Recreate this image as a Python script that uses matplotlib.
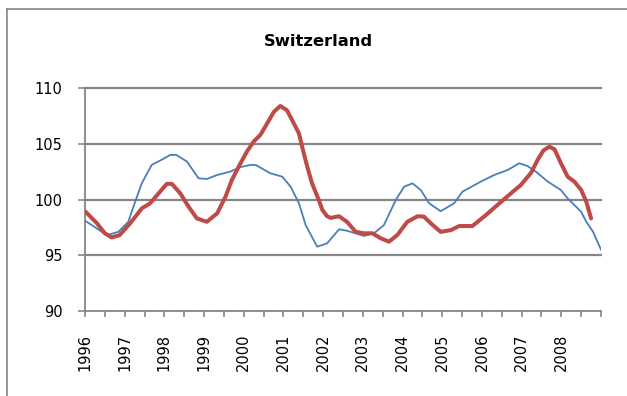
import numpy as np
import matplotlib
matplotlib.use("Agg")
import matplotlib.pyplot as plt
from matplotlib.lines import Line2D

# blue series (decimal year, index)
blue_t = [1996.0, 1996.3, 1996.55, 1996.84, 1997.09, 1997.22, 1997.43, 1997.68, 1997.95,
          1998.15, 1998.3, 1998.57, 1998.86, 1999.07, 1999.33, 1999.66, 1999.91, 2000.17,
          2000.3, 2000.67, 2000.97, 2001.18, 2001.39, 2001.56, 2001.85, 2002.1, 2002.4,
          2002.6, 2003.03, 2003.28, 2003.53, 2003.83, 2004.04, 2004.25, 2004.46, 2004.67,
          2004.96, 2005.3, 2005.51, 2005.97, 2006.31, 2006.65, 2006.94, 2007.15, 2007.36,
          2007.66, 2007.99, 2008.16, 2008.5, 2008.63, 2008.8, 2009.0]
blue_v = [98.1, 97.4, 96.8, 97.1, 98.0, 99.35, 101.45, 103.1, 103.6,
          104.0, 104.0, 103.4, 101.9, 101.84, 102.2, 102.5, 102.9, 103.1,
          103.1, 102.35, 102.05, 101.15, 99.66, 97.7, 95.77, 96.07, 97.33,
          97.2, 96.73, 96.97, 97.7, 99.96, 101.15, 101.45, 100.85, 99.66,
          98.95, 99.66, 100.7, 101.6, 102.2, 102.65, 103.25, 103.0, 102.5,
          101.6, 100.85, 100.1, 98.9, 98.0, 97.1, 95.5]

# red series (decimal year, index)
red_t = [1996.0, 1996.3, 1996.5, 1996.67, 1996.87, 1997.14, 1997.43, 1997.64, 1997.89,
         1998.06, 1998.19, 1998.4, 1998.61, 1998.82, 1999.07, 1999.33, 1999.54, 1999.7,
         1999.91, 2000.08, 2000.25, 2000.42, 2000.59, 2000.76, 2000.92, 2001.09, 2001.26,
         2001.39, 2001.47, 2001.6, 2001.72, 2001.89, 2001.98, 2002.1, 2002.19, 2002.4,
         2002.6, 2002.82, 2003.03, 2003.24, 2003.45, 2003.66, 2003.87, 2004.12, 2004.38,
         2004.54, 2004.71, 2004.96, 2005.22, 2005.43, 2005.76, 2006.1, 2006.44, 2006.73,
         2006.98, 2007.24, 2007.41, 2007.55, 2007.7, 2007.83, 2007.99, 2008.16, 2008.33,
         2008.5, 2008.63, 2008.75]
red_v = [98.95, 97.87, 96.97, 96.6, 96.8, 97.87, 99.2, 99.66, 100.7,
         101.4, 101.4, 100.55, 99.35, 98.3, 98.0, 98.76, 100.25, 101.75,
         103.2, 104.3, 105.2, 105.8, 106.83, 107.87, 108.39, 108.0, 106.83,
         105.93, 104.74, 102.94, 101.45, 99.96, 99.06, 98.5, 98.35, 98.5,
         98.0, 97.1, 96.97, 96.97, 96.52, 96.22, 96.82, 98.0, 98.5,
         98.46, 97.87, 97.1, 97.26, 97.62, 97.62, 98.6, 99.66, 100.55,
         101.3, 102.4, 103.6, 104.4, 104.74, 104.5, 103.25, 102.05, 101.6,
         100.85, 99.8, 98.3]

years = list(range(1996, 2009))
y_ticks = [90, 95, 100, 105, 110]

W, H = 627, 396
fig = plt.figure(figsize=(W / 100, H / 100), dpi=100)
ax = fig.add_axes([85 / W, 1 - 311 / H, (601 - 85) / W, (311 - 88) / H])

gris = "#868686"
for v in y_ticks[1:]:
    ax.axhline(v, color=gris, lw=1.6, zorder=1, clip_on=False)

ax.plot(blue_t, blue_v, color="#4a7ebb", lw=1.3, zorder=3)
ax.plot(red_t, red_v, color="#be4b48", lw=2.9, solid_capstyle="round",
        solid_joinstyle="round", zorder=4)

ax.set_xlim(1996, 2009)
ax.set_ylim(90, 110)
ax.set_yticks(y_ticks)
half_years = np.arange(1996, 2009.01, 0.5)
ax.set_xticks(half_years)
ax.set_xticklabels([str(int(t)) if t == int(t) and int(t) in years else "" for t in half_years],
                   rotation=90)

for s in ["top", "right"]:
    ax.spines[s].set_visible(False)
for s in ["left", "bottom"]:
    ax.spines[s].set_color(gris)
    ax.spines[s].set_linewidth(1.3)

ax.tick_params(axis="x", direction="out", length=4.5, width=1.2, color=gris,
               pad=12, labelsize=10.5)
ax.tick_params(axis="y", direction="out", length=5, width=1.2, color=gris,
               pad=11, labelsize=10.5)

fig.text(318 / W, 1 - 42 / H, "Switzerland", ha="center", va="center",
         fontsize=11.8, fontweight="bold")

# chart frame
fig.add_artist(Line2D([7 / W, 1], [1 - 8.5 / H] * 2, color=gris, lw=1.2))
fig.add_artist(Line2D([7 / W] * 2, [0, 1 - 8.5 / H], color=gris, lw=1.2))

fig.savefig("out.png", dpi=100)
